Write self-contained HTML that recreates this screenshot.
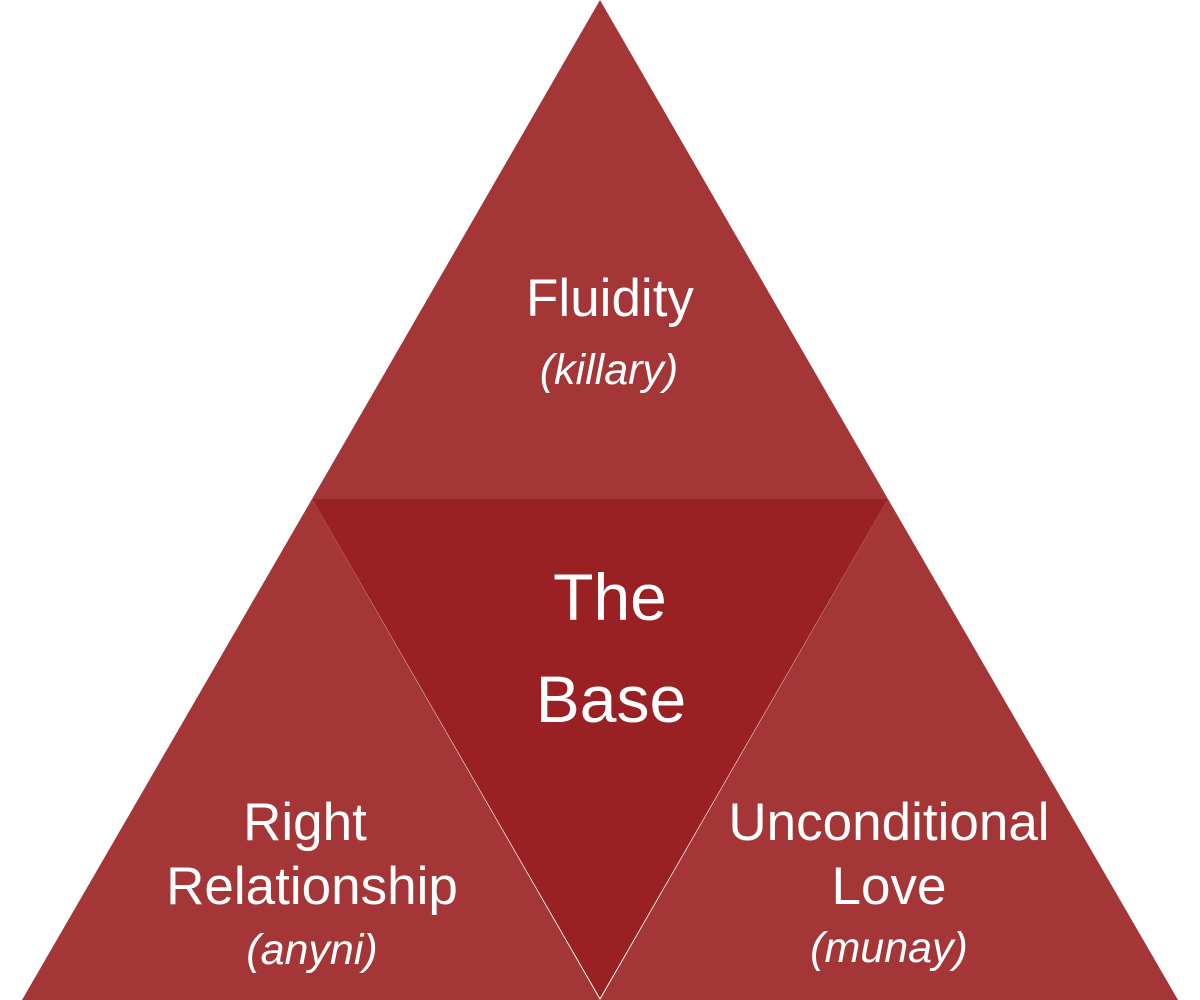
<!DOCTYPE html>
<html><head><meta charset="utf-8"><style>
html,body{margin:0;padding:0;background:#fff;width:1200px;height:1000px;overflow:hidden}
text{font-family:"Liberation Sans",sans-serif;fill:#fff}
</style></head><body>
<svg width="1200" height="1000" viewBox="0 0 1200 1000" xmlns="http://www.w3.org/2000/svg">
<polygon points="600,0 888,499 312,499" fill="#a43637"/>
<polygon points="312,499 600,1000 22,1000" fill="#a43637"/>
<polygon points="888,499 1178,1000 600,1000" fill="#a43637"/>
<polygon points="312,499 888,499 600,998" fill="#9a2123"/>
<g text-anchor="middle">
<text x="610" y="316" font-size="53">Fluidity</text>
<text x="609" y="384" font-size="43" font-style="italic">(killary)</text>
<text x="610" y="620" font-size="66">The</text>
<text x="611" y="722" font-size="66">Base</text>
<text x="305" y="840" font-size="53">Right</text>
<text x="312" y="904" font-size="53">Relationship</text>
<text x="312" y="964" font-size="43" font-style="italic">(anyni)</text>
<text x="889" y="840" font-size="53">Unconditional</text>
<text x="889" y="904" font-size="53">Love</text>
<text x="889" y="962" font-size="43" font-style="italic">(munay)</text>
</g>
</svg>
</body></html>
